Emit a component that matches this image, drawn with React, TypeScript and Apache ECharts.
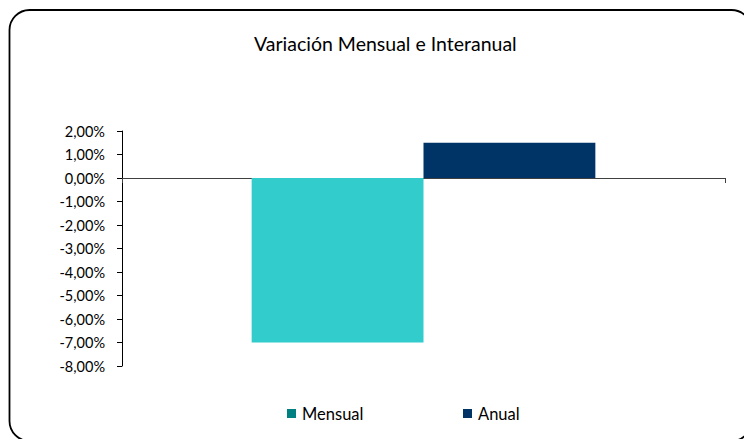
import React, { useEffect, useRef } from "react";
import * as echarts from "echarts";

const categories = [""];
const seriesNames = ["Mensual", "Anual"];
const mensualValues = [-7.0];
const anualValues = [1.5];
const yTicks = { min: -8, max: 2, interval: 1 };

const FONT = "Lato, 'Open Sans', sans-serif";

const fmt = (v: number) => v.toFixed(2).replace(".", ",") + "%";

export default function App() {
  const ref = useRef<HTMLDivElement>(null);
  useEffect(() => {
    if (!ref.current) return;
    const chart = echarts.init(ref.current, null, { renderer: "svg" });
    const legendBase = {
      top: 405,
      padding: 0,
      icon: "rect",
      itemWidth: 9,
      itemHeight: 9,
      itemGap: 5,
      textStyle: { fontFamily: FONT, fontSize: 16.5, color: "#000", padding: [0, 0, 0, 1] },
    };
    chart.setOption({
      animation: false,
      backgroundColor: "#ffffff",
      title: {
        text: "Variación Mensual e Interanual",
        left: 254,
        top: 33,
        padding: 0,
        textStyle: { fontFamily: FONT, fontSize: 19.5, fontWeight: "normal", color: "#000" },
      },
      graphic: [
        {
          type: "rect",
          shape: { x: 9.5, y: 10, width: 742, height: 431, r: 20 },
          style: { fill: "none", stroke: "#000", lineWidth: 1.8 },
          silent: true,
        },
      ],
      legend: [
        {
          ...legendBase,
          data: [{ name: seriesNames[0], itemStyle: { color: "#008080" } }],
          left: 287,
        },
        {
          ...legendBase,
          data: [{ name: seriesNames[1], itemStyle: { color: "#003366" } }],
          left: 463,
        },
      ],
      grid: { left: 122, right: 19, top: 131, bottom: 73, containLabel: false },
      xAxis: {
        type: "category",
        data: categories,
        axisLine: { onZero: true, lineStyle: { color: "#404040", width: 1.2 } },
        axisTick: { show: true, length: 5, lineStyle: { color: "#404040" } },
        axisLabel: { show: false },
        splitLine: { show: false },
      },
      yAxis: {
        type: "value",
        min: yTicks.min,
        max: yTicks.max,
        interval: yTicks.interval,
        axisLine: { show: true, lineStyle: { color: "#000", width: 1 } },
        axisTick: { show: true, length: 5, lineStyle: { color: "#000" } },
        splitLine: { show: false },
        axisLabel: {
          formatter: fmt,
          margin: 17,
          fontFamily: FONT,
          fontSize: 14.5,
          color: "#000",
        },
      },
      series: [
        {
          name: seriesNames[0],
          type: "bar",
          data: mensualValues,
          itemStyle: { color: "#33CCCC" },
          barGap: "0%",
          barCategoryGap: "43%",
        },
        {
          name: seriesNames[1],
          type: "bar",
          data: anualValues,
          itemStyle: { color: "#003366" },
          barGap: "0%",
          barCategoryGap: "43%",
        },
      ],
    });
    return () => chart.dispose();
  }, []);
  return (
    <div
      ref={ref}
      style={{ position: "absolute", left: 0, top: 0, width: 744, height: 439 }}
    />
  );
}
